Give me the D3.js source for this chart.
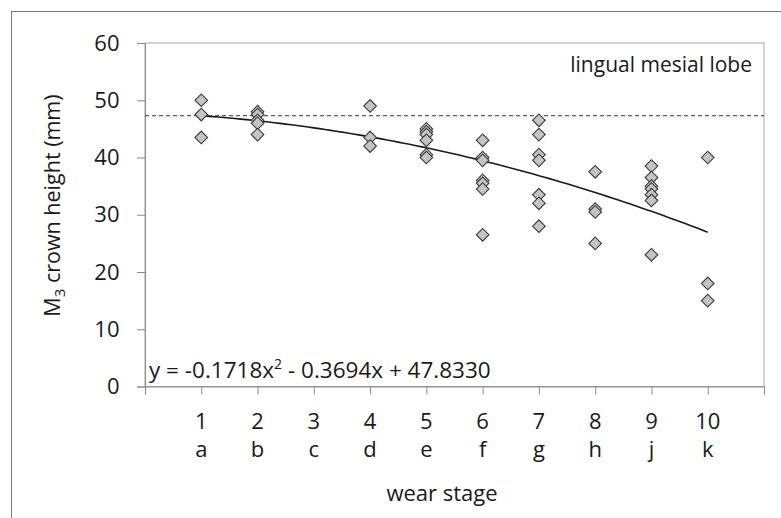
<!DOCTYPE html>
<html>
<head>
<meta charset="utf-8">
<script src="https://cdn.jsdelivr.net/npm/d3@7"></script>
<style>
  html, body { margin: 0; padding: 0; background: #fff; }
  svg { display: block; font-family: "Open Sans", "Liberation Sans", sans-serif; }
</style>
</head>
<body>
<svg id="chart" width="781" height="518"></svg>
<script>
// Wear stages (numeric position and letter code)
const stageNumbers = [1, 2, 3, 4, 5, 6, 7, 8, 9, 10];
const stageLetters = ["a", "b", "c", "d", "e", "f", "g", "h", "j", "k"];
const yTicks = [0, 10, 20, 30, 40, 50, 60];

// Crown height measurements (mm) per wear stage
const stage1 = [50, 47.5, 43.5];
const stage2 = [48, 47.5, 46.5, 46, 44];
const stage4 = [49, 43.5, 42];
const stage5 = [45, 44.5, 44, 43, 40.5, 40];
const stage6 = [43, 40, 39.5, 36, 35.5, 34.5, 26.5];
const stage7 = [46.5, 44, 40.5, 39.5, 33.5, 32, 28];
const stage8 = [37.5, 31, 30.5, 25];
const stage9 = [38.5, 36.5, 35, 34.5, 33.5, 32.5, 23];
const stage10 = [40, 18, 15];

// Quadratic fit coefficients
const fitA = -0.1718, fitB = -0.3694, fitC = 47.8330;
const fitLabel = "y = -0.1718x";
const fitLabelRest = " - 0.3694x + 47.8330";
const referenceLevel = 47.3;

const points = [];
[[1, stage1], [2, stage2], [4, stage4], [5, stage5], [6, stage6],
 [7, stage7], [8, stage8], [9, stage9], [10, stage10]].forEach(([s, vals]) => {
  vals.forEach(v => points.push({ stage: s, value: v }));
});

const svg = d3.select("#chart");
const plotLeft = 145, plotRight = 764, plotTop = 43, plotBottom = 386.5;
const ink = "#1a1a1a";

const x = d3.scaleLinear().domain([0, 11]).range([plotLeft, plotRight]);
const y = d3.scaleLinear().domain([0, 60]).range([plotBottom, plotTop]);

// Outer chart frame (only top and left edges fall inside the view)
svg.append("rect")
  .attr("x", 11.5).attr("y", 11.5)
  .attr("width", 800).attr("height", 560)
  .attr("fill", "none").attr("stroke", "#7a7a7a").attr("stroke-width", 1);

// Plot area frame
svg.append("rect")
  .attr("x", plotLeft).attr("y", plotTop)
  .attr("width", plotRight - plotLeft).attr("height", plotBottom - plotTop)
  .attr("fill", "none").attr("stroke", "#a6a6a6").attr("stroke-width", 1);

// Y axis
const yAxis = svg.append("g")
  .attr("transform", `translate(${plotLeft},0)`)
  .call(d3.axisLeft(y).tickValues(yTicks).tickSize(8).tickPadding(17.5).tickFormat(d3.format("d")));
yAxis.select(".domain").attr("stroke", "#8c8c8c");
yAxis.selectAll(".tick line").attr("stroke", "#8c8c8c");
yAxis.selectAll(".tick text")
  .attr("font-size", 22).attr("fill", ink)
  .attr("font-family", "'Open Sans', sans-serif");

// X axis with ticks at every integer from 0 to 11
const xAxis = svg.append("g")
  .attr("transform", `translate(0,${plotBottom})`)
  .call(d3.axisBottom(x).tickValues(d3.range(0, 12)).tickSize(8).tickFormat(""));
xAxis.select(".domain").attr("stroke", "#8c8c8c");
xAxis.selectAll(".tick line").attr("stroke", "#8c8c8c");

// Two-row x tick labels: stage number over letter code
const xLabels = svg.append("g").attr("font-size", 22).attr("fill", ink).attr("text-anchor", "middle");
xLabels.selectAll("text.num").data(stageNumbers).join("text")
  .attr("class", "num")
  .attr("x", d => x(d)).attr("y", 429)
  .text(d => d);
xLabels.selectAll("text.let").data(stageLetters).join("text")
  .attr("class", "let")
  .attr("x", (d, i) => x(stageNumbers[i])).attr("y", 457)
  .text(d => d);

// Axis titles
svg.append("text")
  .attr("x", 442).attr("y", 501)
  .attr("text-anchor", "middle").attr("font-size", 22).attr("fill", ink)
  .text("wear stage");

const yTitle = svg.append("text")
  .attr("transform", "translate(60,205.5) rotate(-90)")
  .attr("text-anchor", "middle").attr("font-size", 21.5).attr("fill", ink);
yTitle.append("tspan").text("M");
yTitle.append("tspan").attr("font-size", 15).attr("dy", 5).text("3");
yTitle.append("tspan").attr("dy", -5).text(" crown height (mm)");

// Dashed reference level
svg.append("line")
  .attr("x1", plotLeft).attr("x2", plotRight)
  .attr("y1", y(referenceLevel)).attr("y2", y(referenceLevel))
  .attr("stroke", "#333").attr("stroke-width", 1).attr("stroke-dasharray", "4,3");

// Fitted quadratic curve from stage 1 to 10
const curveX = d3.range(1, 10.001, 0.1);
const line = d3.line().x(d => x(d)).y(d => y(fitA * d * d + fitB * d + fitC));
svg.append("path")
  .datum(curveX)
  .attr("d", line)
  .attr("fill", "none").attr("stroke", ink).attr("stroke-width", 1.6);

// Data points as diamonds
const diamond = d3.symbol().type(d3.symbolSquare).size(80);
svg.append("g").selectAll("path").data(points).join("path")
  .attr("d", diamond)
  .attr("transform", d => `translate(${x(d.stage)},${y(d.value)}) rotate(45)`)
  .attr("fill", "#c4c4c4").attr("stroke", "#3c3c3c").attr("stroke-width", 1.1);

// Panel label
svg.append("text")
  .attr("x", 752).attr("y", 71.5)
  .attr("text-anchor", "end").attr("font-size", 21).attr("fill", ink)
  .text("lingual mesial lobe");

// Regression equation
const eq = svg.append("text")
  .attr("x", 149).attr("y", 378)
  .attr("font-size", 22.5).attr("fill", ink);
eq.append("tspan").text(fitLabel);
eq.append("tspan").attr("font-size", 14).attr("dy", -9).text("2");
eq.append("tspan").attr("dy", 9).text(fitLabelRest);
</script>
</body>
</html>
